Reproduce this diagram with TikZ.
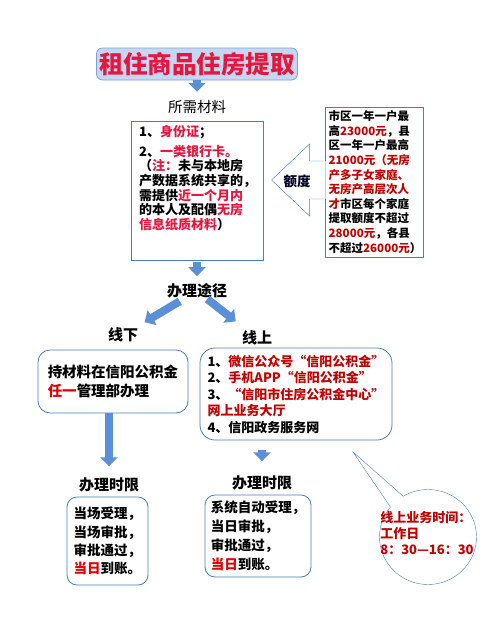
\documentclass[tikz,border=0pt]{standalone}
\usepackage{fontspec}
\setmainfont{Noto Sans CJK SC}
\usepackage{tikz}
\usetikzlibrary{arrows.meta,positioning,shapes.callouts,calc}
\definecolor{bxblue}{HTML}{4A7EBB}
\definecolor{arblue}{HTML}{5B8FD6}
\definecolor{ttlfill}{HTML}{C6D8F1}
\definecolor{ttlline}{HTML}{7EA0D6}
\definecolor{ttlred}{HTML}{E5173F}
\definecolor{dkred}{HTML}{C00000}
\definecolor{brred}{HTML}{E00000}
\newcommand{\rd}[1]{\textcolor{ttlred}{#1}}
\newcommand{\dr}[1]{\textcolor{dkred}{#1}}

\begin{document}
\begin{tikzpicture}[x=1pt,y=-1pt,
  box/.style={draw=bxblue,thick,inner sep=0pt},
  rbox/.style={box,rounded corners=12pt},
  lbl/.style={font=\fontsize{15}{17}\selectfont\bfseries},
  barrow/.style={draw=arblue,line width=8pt,-{Triangle[width=17pt,length=9pt]}}]
  \fill[white] (0,0) rectangle (480,625);
  \useasboundingbox (0,0) rectangle (480,625);
  \node[box,draw=ttlline,fill=ttlfill,rounded corners=6pt,minimum width=201pt,minimum height=32pt,text=ttlred,font=\fontsize{24.5}{25}\selectfont\bfseries] (title) at (197,64) {租住商品住房提取};
  \node[font=\fontsize{14.5}{16}\selectfont] (need) at (197,107) {所需材料};
  \node[box,minimum width=132pt,minimum height=139pt] (mat) at (197,190.5) {};
  \node[anchor=north west,inner sep=0pt,align=left,font=\fontsize{13}{14.7}\selectfont\bfseries] (mattext) at (139,125) {1、\rd{身份证}；\\[5pt]2、\rd{一类银行卡。}\\（\rd{注：}未与本地房\\产数据系统共享的，\\需提供\rd{近一个月内}\\的本人及配偶\rd{无房}\\\rd{信息纸质材料}）};
  \node[box,minimum width=98pt,minimum height=150pt] (quota) at (374,182) {};
  \node[align=left,inner sep=0pt,font=\fontsize{11.5}{14.6}\selectfont\bfseries] (quotatext) at (375,182) {市区一年一户最\\高\dr{23000元}，县\\区一年一户最高\\\dr{21000元（无房}\\\dr{产多子女家庭、}\\\dr{无房产高层次人}\\\dr{才}市区每个家庭\\提取额度不超过\\\dr{28000元}，各县\\不超过\dr{26000元}）};
  \draw[bxblue,fill=white] ($(quota.west)+(1,-21)$) -- ++(-16,0) -- ++(0,-17) -- ++(-38,36) -- ++(38,36) -- ++(0,-17) -- ++(16,0);
  \node[font=\fontsize{13.5}{15}\selectfont\bfseries,text=black!85!blue] (quotalbl) at (297,181) {额度};
  \node[lbl] (route) at (197,291) {办理途径};
  \node[lbl] (off) at (123,335) {线下};
  \node[lbl] (on) at (257,338) {线上};
  \node[rbox,minimum width=150pt,minimum height=63pt,align=left,font=\fontsize{14.5}{19}\selectfont\bfseries] (offbox) at (113,381.5) {持材料在信阳公积金\\\textcolor{brred}{任一}管理部办理};
  \node[rbox,rounded corners=15pt,minimum width=192pt,minimum height=92pt,align=left,font=\fontsize{13}{16.5}\selectfont\bfseries] (onbox) at (296,394) {1、\dr{微信公众号“信阳公积金”}\\2、\dr{手机APP“信阳公积金”}\\3、\dr{“信阳市住房公积金中心”}\\\dr{网上业务大厅}\\4、信阳政务服务网};
  \node[lbl] (lim1) at (109,485) {办理时限};
  \node[lbl] (lim2) at (262,483) {办理时限};
  \node[rbox,rounded corners=10pt,minimum width=81pt,minimum height=88pt,align=left,font=\fontsize{13.5}{18.3}\selectfont\bfseries] (lim1box) at (107.5,541) {当场受理，\\当场审批，\\审批通过，\\\textcolor{brred}{当日}到账。};
  \node[rbox,rounded corners=10pt,minimum width=106pt,minimum height=82pt,align=left,font=\fontsize{13.5}{19}\selectfont\bfseries] (lim2box) at (258,536) {系统自动受理，\\当日审批，\\审批通过，\\\textcolor{brred}{当日}到账。};
  \node[ellipse callout,draw=bxblue,minimum width=97pt,minimum height=95pt,callout absolute pointer={(353,452)},callout pointer arc=20] (note) at (428,537) {};
  \node[align=left,inner sep=0pt,text=dkred,font=\fontsize{13}{16}\selectfont\bfseries] (notetext) at (427,533) {线上业务时间：\\工作日\\8：30—16：30};
  \draw[barrow,shorten >=5pt] (title) -- (need);
  \draw[barrow,shorten <=2pt,shorten >=4pt] (mat) -- (route);
  \draw[barrow,shorten <=20pt,shorten >=25pt] (route.center) -- (off.center);
  \draw[barrow,shorten <=13pt,shorten >=27pt] (route.center) -- (on.center);
  \draw[barrow,shorten >=8pt] (offbox.south -| lim1) -- (lim1.north);
  \draw[barrow,shorten <=10pt,shorten >=11pt] (onbox.south -| lim2) -- (lim2.north);
\end{tikzpicture}
\end{document}
